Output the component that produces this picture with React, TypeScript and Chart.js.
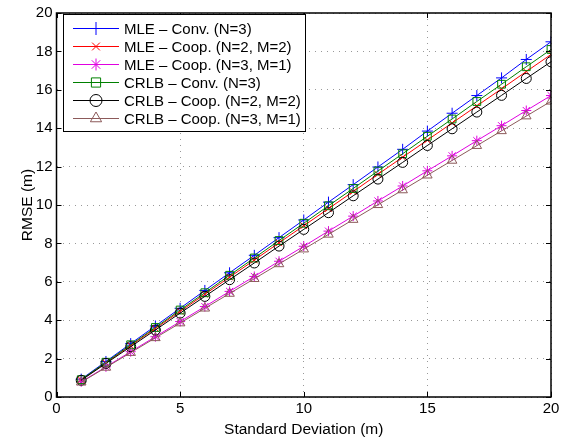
import React, { useEffect, useRef } from "react";
import { Chart, registerables } from "chart.js";
import { drawPoint } from "chart.js/helpers";

Chart.register(...registerables);

const sigma = [1, 2, 3, 4, 5, 6, 7, 8, 9, 10, 11, 12, 13, 14, 15, 16, 17, 18, 19, 20];

const mleConv = [0.93, 1.85, 2.78, 3.70, 4.62, 5.55, 6.47, 7.38, 8.30, 9.22, 10.15, 11.06, 11.98, 12.90, 13.85, 14.78, 15.70, 16.62, 17.58, 18.50];
const mleCoop22 = [0.89, 1.78, 2.68, 3.57, 4.46, 5.35, 6.24, 7.13, 8.03, 8.92, 9.81, 10.70, 11.60, 12.49, 13.38, 14.27, 15.16, 16.05, 16.95, 17.84];
const mleCoop31 = [0.79, 1.57, 2.36, 3.14, 3.93, 4.71, 5.50, 6.28, 7.07, 7.85, 8.64, 9.42, 10.21, 10.99, 11.78, 12.56, 13.35, 14.13, 14.92, 15.70];
const crlbConv = [0.90, 1.81, 2.72, 3.62, 4.53, 5.43, 6.34, 7.24, 8.15, 9.05, 9.96, 10.86, 11.77, 12.67, 13.58, 14.48, 15.39, 16.29, 17.20, 18.10];
const crlbCoop22 = [0.87, 1.75, 2.62, 3.49, 4.37, 5.24, 6.11, 6.98, 7.86, 8.73, 9.60, 10.48, 11.35, 12.22, 13.10, 13.97, 14.84, 15.71, 16.59, 17.46];
const crlbCoop31 = [0.77, 1.54, 2.31, 3.08, 3.85, 4.62, 5.39, 6.16, 6.93, 7.70, 8.47, 9.24, 10.01, 10.78, 11.55, 12.32, 13.09, 13.86, 14.63, 15.40];

const seriesLabels = [
  "MLE – Conv. (N=3)",
  "MLE – Coop. (N=2, M=2)",
  "MLE – Coop. (N=3, M=1)",
  "CRLB – Conv. (N=3)",
  "CRLB – Coop. (N=2, M=2)",
  "CRLB – Coop. (N=3, M=1)",
];
const seriesValues = [mleConv, mleCoop22, mleCoop31, crlbConv, crlbCoop22, crlbCoop31];
const seriesColors = ["#0000ff", "#ff0000", "#e000e0", "#008000", "#000000", "#8c5a5a"];
const seriesMarkers = ["cross", "crossRot", "star", "rect", "circle", "triangle"];
const seriesRadius = [5.5, 4.5, 5, 5.5, 5, 5.5];

const xTicks = [0, 5, 10, 15, 20];
const yTicks = [0, 2, 4, 6, 8, 10, 12, 14, 16, 18, 20];

const FONT = '"Liberation Sans", Arial, Helvetica, sans-serif';

const framePlugin = {
  id: "frameTicks",
  afterDraw(chart: any) {
    const { ctx, chartArea } = chart;
    const { left, right, top, bottom } = chartArea;
    const xs = chart.scales.x;
    const ys = chart.scales.y;
    const tl = 5;
    ctx.save();
    ctx.strokeStyle = "#000";
    ctx.lineWidth = 1;
    ctx.beginPath();
    for (const v of xTicks) {
      const px = Math.round(xs.getPixelForValue(v)) + 0.5;
      ctx.moveTo(px, bottom);
      ctx.lineTo(px, bottom - tl);
      ctx.moveTo(px, top);
      ctx.lineTo(px, top + tl);
    }
    for (const v of yTicks) {
      const py = Math.round(ys.getPixelForValue(v)) + 0.5;
      ctx.moveTo(left, py);
      ctx.lineTo(left + tl, py);
      ctx.moveTo(right, py);
      ctx.lineTo(right - tl, py);
    }
    ctx.stroke();
    ctx.lineWidth = 1.5;
    ctx.strokeRect(left, top, right - left, bottom - top);
    ctx.restore();
  },
};

const legendPlugin = {
  id: "boxLegend",
  afterDraw(chart: any) {
    const { ctx } = chart;
    const bx = 63.5;
    const by = 14.5;
    const bw = 242;
    const bh = 117;
    ctx.save();
    ctx.fillStyle = "#fff";
    ctx.fillRect(bx, by, bw, bh);
    ctx.strokeStyle = "#000";
    ctx.lineWidth = 1;
    ctx.strokeRect(bx, by, bw, bh);
    ctx.font = `15px ${FONT}`;
    ctx.textBaseline = "middle";
    ctx.textAlign = "left";
    chart.data.datasets.forEach((ds: any, i: number) => {
      const cy = by + 14 + i * 18;
      ctx.strokeStyle = ds.borderColor;
      ctx.lineWidth = 1;
      ctx.beginPath();
      ctx.moveTo(73, cy);
      ctx.lineTo(119, cy);
      ctx.stroke();
      ctx.fillStyle = "rgba(0,0,0,0)";
      drawPoint(ctx, { pointStyle: ds.pointStyle, radius: ds.pointRadius + 1, rotation: 0, borderWidth: 1 }, 96, cy);
      ctx.fillStyle = "#000";
      ctx.fillText(ds.label, 124, cy + 1);
    });
    ctx.restore();
  },
};

export default function App() {
  const ref = useRef<HTMLCanvasElement | null>(null);
  useEffect(() => {
    if (!ref.current) return;
    const datasets = seriesLabels.map((label, i) => ({
      label,
      data: sigma.map((s, j) => ({ x: s, y: seriesValues[i][j] })),
      borderColor: seriesColors[i],
      backgroundColor: seriesColors[i],
      borderWidth: 1,
      pointStyle: seriesMarkers[i],
      pointRadius: seriesRadius[i],
      pointBorderColor: seriesColors[i],
      pointBackgroundColor: "rgba(0,0,0,0)",
      pointBorderWidth: 1,
      tension: 0,
      fill: false,
      order: 6 - i,
    }));
    const chart = new Chart(ref.current, {
      type: "line",
      data: { datasets },
      plugins: [framePlugin, legendPlugin],
      options: {
        animation: false,
        responsive: false,
        devicePixelRatio: 1,
        layout: { padding: { left: 0, right: 26, top: 8, bottom: 0 } },
        plugins: { legend: { display: false }, tooltip: { enabled: false } },
        scales: {
          x: {
            type: "linear",
            min: 0,
            max: 20,
            afterBuildTicks: (scale: any) => {
              scale.ticks = xTicks.map((v) => ({ value: v }));
            },
            afterFit: (scale: any) => {
              scale.height = 46;
            },
            grid: {
              color: "rgba(0,0,0,0.4)",
              lineWidth: 1,
              drawTicks: false,
            },
            border: { display: false, dash: [1, 5] },
            ticks: {
              color: "#000",
              font: { family: FONT, size: 15 },
              padding: 3,
              maxRotation: 0,
            },
            title: {
              display: true,
              text: "Standard Deviation (m)",
              color: "#000",
              font: { family: FONT, size: 15.5 },
              padding: { top: 0, bottom: 4 },
            },
          },
          y: {
            type: "linear",
            min: 0,
            max: 20,
            afterBuildTicks: (scale: any) => {
              scale.ticks = yTicks.map((v) => ({ value: v }));
            },
            afterFit: (scale: any) => {
              scale.width = 56.5;
            },
            grid: {
              color: "rgba(0,0,0,0.4)",
              lineWidth: 1,
              drawTicks: false,
            },
            border: { display: false, dash: [1, 5] },
            ticks: {
              color: "#000",
              font: { family: FONT, size: 15 },
              padding: 4,
            },
            title: {
              display: true,
              text: "RMSE (m)",
              color: "#000",
              font: { family: FONT, size: 15.5 },
              padding: { top: 18, bottom: 0 },
            },
          },
        },
      },
    } as any);
    return () => chart.destroy();
  }, []);
  return (
    <div style={{ position: "fixed", left: 0, top: 0, width: 577, height: 443, background: "#fff" }}>
      <canvas ref={ref} width={577} height={443} style={{ width: 577, height: 443 }} />
    </div>
  );
}
